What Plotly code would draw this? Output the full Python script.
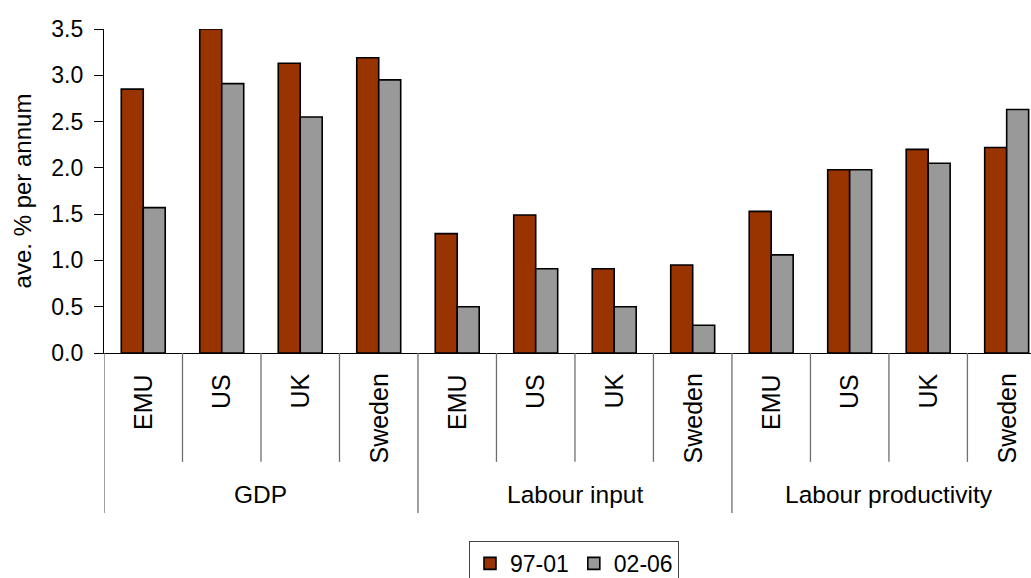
import plotly.graph_objects as go

# Growth rates, average % per annum
groups = ["GDP", "Labour input", "Labour productivity"]
countries = ["EMU", "US", "UK", "Sweden"]
period_a = "97-01"
period_b = "02-06"
values_a = [2.85, 3.50, 3.13, 3.19,
            1.29, 1.49, 0.91, 0.95,
            1.53, 1.98, 2.20, 2.22]
values_b = [1.57, 2.91, 2.55, 2.95,
            0.50, 0.91, 0.50, 0.30,
            1.06, 1.98, 2.05, 2.63]
y_ticks = [0.0, 0.5, 1.0, 1.5, 2.0, 2.5, 3.0, 3.5]

n = len(groups) * len(countries)
xs = list(range(n))
FONT = "Liberation Sans, Arial, sans-serif"
RED = "#993300"
GREY = "#999999"

fig = go.Figure()
fig.add_trace(go.Bar(x=xs, y=values_a, name=period_a,
                     marker=dict(color=RED, line=dict(color="black", width=1.6))))
fig.add_trace(go.Bar(x=xs, y=values_b, name=period_b,
                     marker=dict(color=GREY, line=dict(color="black", width=1.6))))

shapes = []
annotations = []
# country labels under each slot, rotated
for i in xs:
    annotations.append(dict(x=i, y=-0.058, xref="x", yref="paper",
                            text=countries[i % len(countries)], textangle=-90,
                            showarrow=False, xanchor="center", yanchor="top",
                            font=dict(family=FONT, size=25, color="black")))
# short dividers between countries, long dividers between groups
for k in range(n + 1):
    b = k - 0.5
    long_div = (k % len(countries) == 0)
    shapes.append(dict(type="line", xref="x", yref="paper",
                       x0=b, x1=b, y0=0, y1=-0.494 if long_div else -0.336,
                       line=dict(color="#6e6e6e", width=1.3)))
# group labels
for g, name in enumerate(groups):
    cx = g * len(countries) + (len(countries) - 1) / 2
    annotations.append(dict(x=cx, y=-0.436, xref="x", yref="paper",
                            text=name, showarrow=False,
                            xanchor="center", yanchor="middle",
                            font=dict(family=FONT, size=24.5, color="black")))

fig.update_layout(
    width=1031, height=578,
    margin=dict(l=104, r=0, t=29, b=225, autoexpand=False),
    paper_bgcolor="white", plot_bgcolor="white",
    barmode="group", bargap=0.44, bargroupgap=0,
    font=dict(family=FONT, size=23, color="black"),
    showlegend=True,
    legend=dict(orientation="h", x=0.507, xref="paper", xanchor="center",
                y=-0.58, yanchor="top",
                bordercolor="#444444", borderwidth=1,
                font=dict(family=FONT, size=23),
                itemwidth=30, tracegroupgap=0),
    shapes=shapes, annotations=annotations,
)
fig.update_xaxes(range=[-0.5, 11.31], showticklabels=False, ticks="",
                 showline=True, linecolor="black", linewidth=1.2,
                 showgrid=False, zeroline=False)
fig.update_yaxes(range=[0, 3.5], tickvals=y_ticks,
                 ticktext=[f"{v:.1f}" for v in y_ticks],
                 ticks="outside", ticklen=9, tickcolor="black",
                 ticklabelstandoff=6,
                 showline=True, linecolor="black", linewidth=1.2,
                 showgrid=False, zeroline=False,
                 title=dict(text="ave. % per annum", standoff=12,
                            font=dict(family=FONT, size=24)))

fig.write_html("out.html")
